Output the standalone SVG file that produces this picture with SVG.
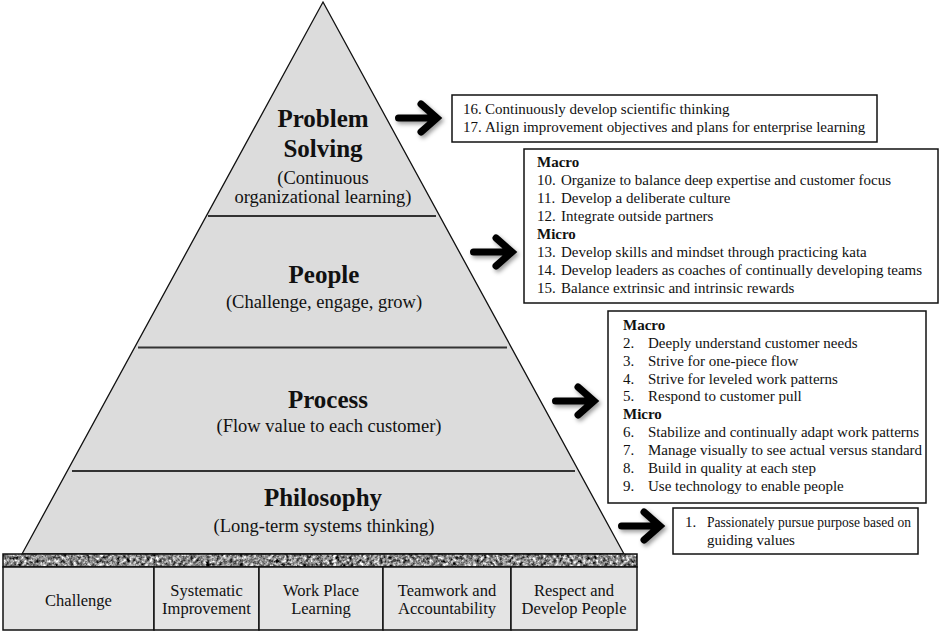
<svg xmlns="http://www.w3.org/2000/svg" width="946" height="637" viewBox="0 0 946 637">
<defs>
<style>
.t{font-family:"Liberation Serif","Times New Roman",serif;fill:#111}
.title{font-size:25px;font-weight:bold;text-anchor:middle}
.sub{font-size:18.5px;text-anchor:middle}
.base{font-size:16.5px;text-anchor:middle}
.li{font-size:15px}
.hd{font-size:15px;font-weight:bold}
.box{fill:#fff;stroke:#111;stroke-width:1.5}
.cell{fill:#e4e4e4;stroke:#111;stroke-width:1.5}
.div{stroke:#333;stroke-width:2}
.arr{fill:none;stroke:#000;stroke-width:7;stroke-linecap:round;stroke-linejoin:miter;filter:url(#sh)}
</style>
<filter id="sh" x="-20%" y="-40%" width="150%" height="200%">
<feDropShadow dx="2" dy="2.5" stdDeviation="2" flood-color="#000" flood-opacity="0.4"/>
</filter>
<filter id="granite" x="0" y="0" width="100%" height="100%" color-interpolation-filters="sRGB">
<feTurbulence type="fractalNoise" baseFrequency="0.3" numOctaves="3" seed="7" result="n"/>
<feColorMatrix in="n" type="matrix" values="0.33 0.33 0.33 0 0  0.33 0.33 0.33 0 0  0.33 0.33 0.33 0 0  0 0 0 0 1" result="g"/>
<feComponentTransfer in="g" result="c">
<feFuncR type="linear" slope="3" intercept="-0.95"/>
<feFuncG type="linear" slope="3" intercept="-0.95"/>
<feFuncB type="linear" slope="3" intercept="-0.95"/>
</feComponentTransfer>
<feComposite in="c" in2="SourceGraphic" operator="in"/>
</filter>
<path id="arrow" d="M3.5 0 H40 M26 -14 L42 0 L26 14"/>
</defs>

<g id="pyramid">
<polygon points="323,2 624,554 22,554" fill="#dcdcdc" stroke="#111" stroke-width="1.3"/>
<line class="div" x1="208" y1="216" x2="436" y2="216"/>
<line class="div" x1="138" y1="347.5" x2="507" y2="347.5"/>
<line class="div" x1="72" y1="471" x2="575" y2="471"/>
</g>

<g id="problem-solving">
<text class="t title" x="323" y="127">Problem</text>
<text class="t title" x="323" y="157">Solving</text>
<text class="t sub" x="323" y="184">(Continuous</text>
<text class="t sub" x="323" y="203">organizational learning)</text>
</g>
<g id="people">
<text class="t title" x="324" y="283">People</text>
<text class="t sub" x="324" y="308">(Challenge, engage, grow)</text>
</g>
<g id="process">
<text class="t title" x="328" y="408">Process</text>
<text class="t sub" x="329" y="432">(Flow value to each customer)</text>
</g>
<g id="philosophy">
<text class="t title" x="323" y="506">Philosophy</text>
<text class="t sub" x="324" y="532">(Long-term systems thinking)</text>
</g>

<g id="foundation">
<rect x="3" y="554" width="634" height="13" fill="#888" filter="url(#granite)"/>
<rect x="3" y="554" width="634" height="13" fill="none" stroke="#111" stroke-width="1.5"/>
<rect class="cell" x="3" y="567" width="151" height="63"/>
<rect class="cell" x="154" y="567" width="105" height="63"/>
<rect class="cell" x="259" y="567" width="124" height="63"/>
<rect class="cell" x="383" y="567" width="128" height="63"/>
<rect class="cell" x="511" y="567" width="126" height="63"/>
<text class="t base" x="78.5" y="606">Challenge</text>
<text class="t base" x="206.5" y="596">Systematic</text>
<text class="t base" x="206.5" y="614">Improvement</text>
<text class="t base" x="321" y="596">Work Place</text>
<text class="t base" x="321" y="614">Learning</text>
<text class="t base" x="447" y="596">Teamwork and</text>
<text class="t base" x="447" y="614">Accountability</text>
<text class="t base" x="574" y="596">Respect and</text>
<text class="t base" x="574" y="614">Develop People</text>
</g>

<g id="connectors">
<use href="#arrow" class="arr" x="395" y="118"/>
<use href="#arrow" class="arr" x="470" y="252"/>
<use href="#arrow" class="arr" x="552" y="401"/>
<use href="#arrow" class="arr" x="618" y="526"/>
</g>

<g id="box-problem-solving">
<rect class="box" x="452" y="95" width="425" height="47"/>
<text class="t li" y="114"><tspan x="463">16.</tspan><tspan x="485">Continuously develop scientific thinking</tspan></text>
<text class="t li" y="132"><tspan x="463">17.</tspan><tspan x="485">Align improvement objectives and plans for enterprise learning</tspan></text>
</g>

<g id="box-people">
<rect class="box" x="524" y="149" width="414" height="154"/>
<text class="t hd" x="537" y="167">Macro</text>
<text class="t li" y="185"><tspan x="537">10.</tspan><tspan x="561">Organize to balance deep expertise and customer focus</tspan></text>
<text class="t li" y="203"><tspan x="537">11.</tspan><tspan x="561">Develop a deliberate culture</tspan></text>
<text class="t li" y="221"><tspan x="537">12.</tspan><tspan x="561">Integrate outside partners</tspan></text>
<text class="t hd" x="537" y="239">Micro</text>
<text class="t li" y="257"><tspan x="537">13.</tspan><tspan x="561">Develop skills and mindset through practicing kata</tspan></text>
<text class="t li" y="275"><tspan x="537">14.</tspan><tspan x="561">Develop leaders as coaches of continually developing teams</tspan></text>
<text class="t li" y="293"><tspan x="537">15.</tspan><tspan x="561">Balance extrinsic and intrinsic rewards</tspan></text>
</g>

<g id="box-process">
<rect class="box" x="608" y="311" width="318" height="192"/>
<text class="t hd" x="623" y="330">Macro</text>
<text class="t li" y="348"><tspan x="623">2.</tspan><tspan x="648">Deeply understand customer needs</tspan></text>
<text class="t li" y="366"><tspan x="623">3.</tspan><tspan x="648">Strive for one-piece flow</tspan></text>
<text class="t li" y="384"><tspan x="623">4.</tspan><tspan x="648">Strive for leveled work patterns</tspan></text>
<text class="t li" y="401"><tspan x="623">5.</tspan><tspan x="648">Respond to customer pull</tspan></text>
<text class="t hd" x="623" y="419">Micro</text>
<text class="t li" y="437"><tspan x="623">6.</tspan><tspan x="648">Stabilize and continually adapt work patterns</tspan></text>
<text class="t li" y="455"><tspan x="623">7.</tspan><tspan x="648">Manage visually to see actual versus standard</tspan></text>
<text class="t li" y="473"><tspan x="623">8.</tspan><tspan x="648">Build in quality at each step</tspan></text>
<text class="t li" y="491"><tspan x="623">9.</tspan><tspan x="648">Use technology to enable people</tspan></text>
</g>

<g id="box-philosophy">
<rect class="box" x="673" y="508" width="245" height="46"/>
<text class="t li" x="685" y="527">1.</text>
<text class="t li" x="707" y="527" textLength="204" lengthAdjust="spacingAndGlyphs">Passionately pursue purpose based on</text>
<text class="t li" x="707" y="545">guiding values</text>
</g>
</svg>
